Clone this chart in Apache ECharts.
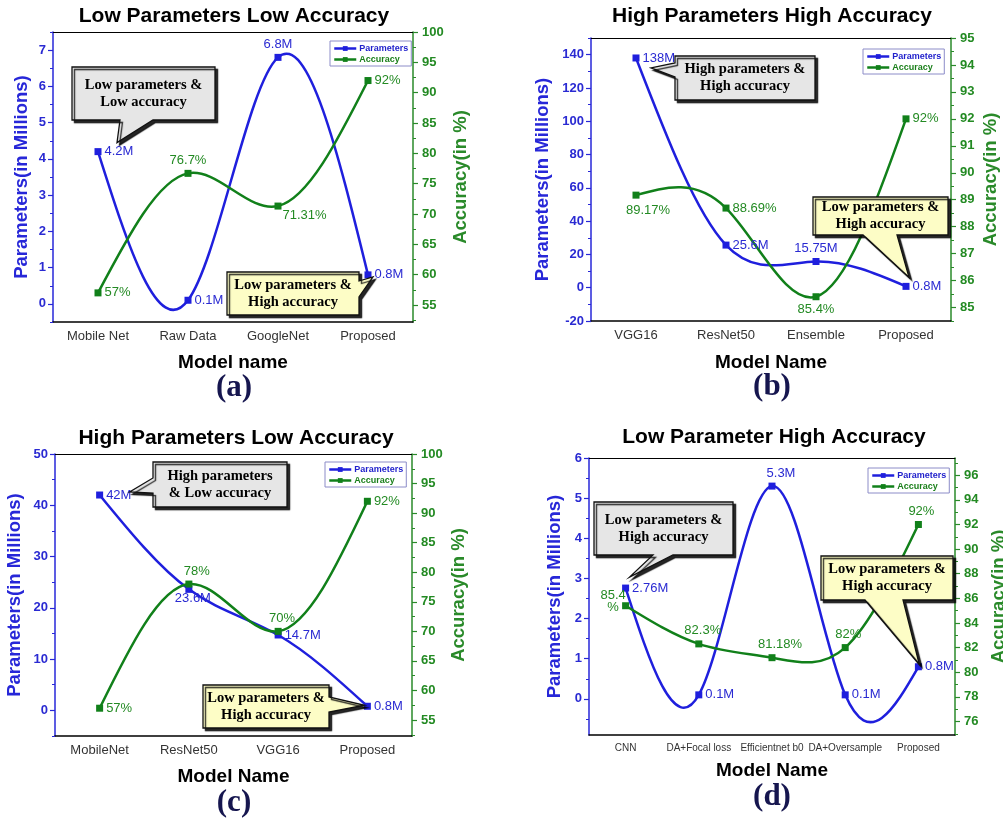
<!DOCTYPE html>
<html>
<head>
<meta charset="utf-8">
<script src="https://cdn.jsdelivr.net/npm/echarts@6/dist/echarts.min.js"></script>
<style>
  html, body { margin: 0; padding: 0; background: #fff; }
  #chart { width: 1003px; height: 823px; }
</style>
</head>
<body>
<div id="chart"></div>
<script>
  // (a) Low Parameters Low Accuracy
  const catsA = ['Mobile Net', 'Raw Data', 'GoogleNet', 'Proposed'];
  const paramsA = [4.2, 0.1, 6.8, 0.8];
  const accA = [57, 76.7, 71.31, 92];
  const leftTicksA = [0, 1, 2, 3, 4, 5, 6, 7];
  const rightTicksA = [55, 60, 65, 70, 75, 80, 85, 90, 95, 100];

  // (b) High Parameters High Accuracy
  const catsB = ['VGG16', 'ResNet50', 'Ensemble', 'Proposed'];
  const paramsB = [138, 25.6, 15.75, 0.8];
  const accB = [89.17, 88.69, 85.4, 92];
  const leftTicksB = [-20, 0, 20, 40, 60, 80, 100, 120, 140];
  const rightTicksB = [85, 86, 87, 88, 89, 90, 91, 92, 93, 94, 95];

  // (c) High Parameters Low Accuracy
  const catsC = ['MobileNet', 'ResNet50', 'VGG16', 'Proposed'];
  const paramsC = [42, 23.6, 14.7, 0.8];
  const accC = [57, 78, 70, 92];
  const leftTicksC = [0, 10, 20, 30, 40, 50];
  const rightTicksC = [55, 60, 65, 70, 75, 80, 85, 90, 95, 100];

  // (d) Low Parameter High Accuracy
  const catsD = ['CNN', 'DA+Focal loss', 'Efficientnet b0', 'DA+Oversample', 'Proposed'];
  const paramsD = [2.76, 0.1, 5.3, 0.1, 0.8];
  const accD = [85.4, 82.3, 81.18, 82, 92];
  const leftTicksD = [0, 1, 2, 3, 4, 5, 6];
  const rightTicksD = [76, 78, 80, 82, 84, 86, 88, 90, 92, 94, 96];

  const BLUE = '#1f1fdd';
  const BLUE_TXT = '#2a2ad2';
  const GREEN = '#11801a';
  const GREEN_TXT = '#238a23';
  const SANS = '"Liberation Sans", Arial, sans-serif';
  const SERIF = '"Liberation Serif", "Times New Roman", serif';

  const R = { p: 'right' }, T = { p: 'top' }, B = { p: 'bottom' };

  const panels = [
    {
      grid: { left: 53, top: 32, width: 360, height: 290 },
      title: 'Low Parameters Low Accuracy', titlePos: [234, 16],
      sub: '(a)', subPos: [234, 388],
      xName: 'Model name', xGap: 31, catFont: 13,
      cats: catsA, params: paramsA, acc: accA,
      left: { min: -0.5, max: 7.5, ticks: leftTicksA, gap: 22 },
      right: { min: 52.2, max: 100, ticks: rightTicksA, gap: 38 },
      legend: { left: 330, top: 41 },
      pLab: [R, R, T, R],
      aLab: [R, T, { p: 'right', o: [-2, 9] }, R]
    },
    {
      grid: { left: 591, top: 38, width: 360, height: 283 },
      title: 'High Parameters High Accuracy', titlePos: [772, 16],
      sub: '(b)', subPos: [772, 387],
      xName: 'Model Name', xGap: 32, catFont: 13,
      cats: catsB, params: paramsB, acc: accB,
      left: { min: -20, max: 150, ticks: leftTicksB, gap: 39 },
      right: { min: 84.5, max: 95, ticks: rightTicksB, gap: 30 },
      legend: { left: 863, top: 49 },
      pLab: [R, R, T, R],
      aLab: [{ p: 'bottom', o: [12, 2] }, R, B, R]
    },
    {
      grid: { left: 55, top: 454, width: 357, height: 282 },
      title: 'High Parameters Low Accuracy', titlePos: [236, 438],
      sub: '(c)', subPos: [234, 803],
      xName: 'Model Name', xGap: 31, catFont: 13,
      cats: catsC, params: paramsC, acc: accC,
      left: { min: -5, max: 50, ticks: leftTicksC, gap: 31 },
      right: { min: 52.3, max: 100, ticks: rightTicksC, gap: 37 },
      legend: { left: 325, top: 462 },
      pLab: [R, { p: 'bottom', o: [4, -4] }, R, R],
      aLab: [R, { p: 'top', o: [8, 0] }, { p: 'top', o: [4, 0] }, R]
    },
    {
      grid: { left: 589, top: 458, width: 366, height: 277 },
      title: 'Low Parameter High Accuracy', titlePos: [774, 437],
      sub: '(d)', subPos: [772, 797],
      xName: 'Model Name', xGap: 26, catFont: 10,
      cats: catsD, params: paramsD, acc: accD,
      left: { min: -0.9, max: 6, ticks: leftTicksD, gap: 25 },
      right: { min: 74.9, max: 97.4, ticks: rightTicksD, gap: 34 },
      legend: { left: 868, top: 468 },
      pLab: [R, R, { p: 'top', o: [9, 0] }, R, R],
      aLab: [{ p: 'left', o: [-6, -4], two: true }, { p: 'top', o: [4, 0] }, { p: 'top', o: [8, 0] }, { p: 'top', o: [3, 0] }, { p: 'top', o: [3, 0] }]
    }
  ];

  // callout boxes: box = [x, y, w, h], wedge base on one side, tip near a data point
  const callouts = [
    { p: 0, s: 'params', i: 0, box: [72, 67, 143, 53], side: 'bottom', base: [120, 153], tip: [19, -9], fill: '#e6e6e6', text: 'Low parameters &\nLow accuracy' },
    { p: 0, s: 'params', i: 3, box: [227, 272, 132, 43], side: 'right', base: [281, 297], tip: [5, 2], fill: '#fdfdc6', text: 'Low parameters &\nHigh accuracy' },
    { p: 1, s: 'params', i: 0, box: [675, 56, 140, 44], side: 'left', base: [63, 77], tip: [15, 10], fill: '#e6e6e6', text: 'High parameters &\nHigh accuracy' },
    { p: 1, s: 'params', i: 3, box: [813, 197, 135, 38], side: 'bottom', base: [863, 897], tip: [3, -9], fill: '#fdfdc6', text: 'Low parameters &\nHigh accuracy' },
    { p: 2, s: 'params', i: 0, box: [153, 462, 134, 45], side: 'left', base: [478, 493], tip: [30, -3], fill: '#e6e6e6', text: 'High parameters\n& Low accuracy' },
    { p: 2, s: 'params', i: 3, box: [203, 685, 126, 43], side: 'right', base: [697, 712], tip: [-3, -1], fill: '#fdfdc6', text: 'Low parameters &\nHigh accuracy' },
    { p: 3, s: 'params', i: 0, box: [594, 502, 139, 53], side: 'bottom', base: [653, 673], tip: [4, -11], fill: '#e6e6e6', text: 'Low parameters &\nHigh accuracy' },
    { p: 3, s: 'params', i: 4, box: [821, 556, 132, 44], side: 'bottom', base: [865, 903], tip: [1, -2], fill: '#fdfdc6', text: 'Low parameters &\nHigh accuracy' }
  ];

  function minorOf(ticks, min, max) {
    const step = ticks[1] - ticks[0];
    const out = [];
    for (let v = ticks[0] - step / 2; v <= max + 1e-9; v += step) {
      if (v >= min - 1e-9) out.push(+v.toFixed(4));
    }
    return out;
  }

  // natural cubic spline through pixel points, as an svg path (like Origin's spline connect)
  function splinePath(p) {
    const n = p.length;
    const x = p.map(q => q[0]), y = p.map(q => q[1]);
    const h = [];
    for (let i = 0; i < n - 1; i++) h.push(x[i + 1] - x[i]);
    const M = new Array(n).fill(0);
    if (n > 2) {
      const a = [], b = [], c = [], d = [];
      for (let i = 1; i < n - 1; i++) {
        a.push(h[i - 1]); b.push(2 * (h[i - 1] + h[i])); c.push(h[i]);
        d.push(6 * ((y[i + 1] - y[i]) / h[i] - (y[i] - y[i - 1]) / h[i - 1]));
      }
      const m = b.length;
      for (let i = 1; i < m; i++) {
        const w = a[i] / b[i - 1];
        b[i] -= w * c[i - 1];
        d[i] -= w * d[i - 1];
      }
      const sol = new Array(m);
      sol[m - 1] = d[m - 1] / b[m - 1];
      for (let i = m - 2; i >= 0; i--) sol[i] = (d[i] - c[i] * sol[i + 1]) / b[i];
      for (let i = 0; i < m; i++) M[i + 1] = sol[i];
    }
    const slope = [];
    for (let i = 0; i < n - 1; i++) slope.push((y[i + 1] - y[i]) / h[i] - h[i] * (2 * M[i] + M[i + 1]) / 6);
    slope.push((y[n - 1] - y[n - 2]) / h[n - 2] + h[n - 2] * (M[n - 2] + 2 * M[n - 1]) / 6);
    let d = 'M' + x[0] + ' ' + y[0];
    for (let i = 0; i < n - 1; i++) {
      const k = h[i] / 3;
      d += ' C' + (x[i] + k) + ' ' + (y[i] + slope[i] * k) + ' ' +
        (x[i + 1] - k) + ' ' + (y[i + 1] - slope[i + 1] * k) + ' ' + x[i + 1] + ' ' + y[i + 1];
    }
    return d;
  }

  function yAxes(gi, pos, cfg, color, txtColor, name) {
    const main = {
      type: 'value', gridIndex: gi, position: pos, min: cfg.min, max: cfg.max,
      name: name, nameLocation: 'middle', nameGap: cfg.gap, nameRotate: 90,
      nameMoveOverlap: false,
      nameTextStyle: { color: color, fontSize: 18.5, fontWeight: 'bold', fontFamily: SANS },
      axisLine: { show: true, lineStyle: { color: color, width: 1.5 } },
      axisTick: { show: true, length: 5, customValues: cfg.ticks, lineStyle: { color: color, width: 1.2 } },
      axisLabel: { customValues: cfg.ticks, color: txtColor, fontSize: 13, fontWeight: 'bold', fontFamily: SANS, margin: pos === 'left' ? 7 : 9 },
      splitLine: { show: false }
    };
    const minor = {
      type: 'value', gridIndex: gi, position: pos, min: cfg.min, max: cfg.max,
      axisLine: { show: false },
      axisTick: { show: true, length: 3, customValues: minorOf(cfg.ticks, cfg.min, cfg.max), lineStyle: { color: color, width: 1 } },
      axisLabel: { show: false },
      splitLine: { show: false }
    };
    return [main, minor];
  }

  function labelOf(l, color, unit) {
    const lab = { show: true, position: l.p, color: color, fontSize: 13, fontFamily: SANS, distance: 3 };
    if (l.o) lab.offset = l.o;
    lab.formatter = l.two ? '{c}\n' + unit : '{c}' + unit;
    if (l.two) { lab.align = 'center'; lab.lineHeight = 12; }
    return lab;
  }

  function curve(gi, yIdx, vals, color) {
    return {
      type: 'custom', coordinateSystem: 'cartesian2d', xAxisIndex: gi * 4, yAxisIndex: yIdx,
      silent: true, clip: false, z: 1,
      data: vals.map((v, i) => [i, v]),
      renderItem: (params, api) => {
        if (params.dataIndex !== 0) return null;
        const pts = vals.map((v, i) => api.coord([i, v]));
        return {
          type: 'path', shape: { pathData: splinePath(pts) },
          style: { fill: 'none', stroke: color, lineWidth: 2.5 }
        };
      }
    };
  }

  const option = {
    animation: false,
    backgroundColor: '#fff',
    grid: [], xAxis: [], yAxis: [], series: [], legend: []
  };

  panels.forEach((pn, gi) => {
    option.grid.push(Object.assign({ outerBoundsMode: 'none', containLabel: false }, pn.grid));
    const xBase = { type: 'category', gridIndex: gi, data: pn.cats, boundaryGap: true };
    option.xAxis.push(Object.assign({}, xBase, {
      position: 'bottom',
      name: pn.xName, nameLocation: 'middle', nameGap: pn.xGap, nameMoveOverlap: false,
      nameTextStyle: { color: '#000', fontSize: 19, fontWeight: 'bold', fontFamily: SANS },
      axisLine: { onZero: false, lineStyle: { color: '#000', width: 1.5 } },
      axisTick: { alignWithLabel: true, interval: 0, length: 5, lineStyle: { color: '#000' } },
      axisLabel: { interval: 0, color: '#333', fontSize: pn.catFont, fontFamily: SANS, margin: 8 }
    }));
    option.xAxis.push(Object.assign({}, xBase, {
      position: 'bottom', axisLine: { show: false, onZero: false },
      axisTick: { interval: 0, length: 3, lineStyle: { color: '#000' } }, axisLabel: { show: false }
    }));
    option.xAxis.push(Object.assign({}, xBase, {
      position: 'top', axisLine: { onZero: false, lineStyle: { color: '#000', width: 1 } },
      axisTick: { inside: true, alignWithLabel: true, interval: 0, length: 5, lineStyle: { color: '#000' } },
      axisLabel: { show: false }
    }));
    option.xAxis.push(Object.assign({}, xBase, {
      position: 'top', axisLine: { show: false, onZero: false },
      axisTick: { inside: true, interval: 0, length: 3, lineStyle: { color: '#000' } }, axisLabel: { show: false }
    }));

    option.yAxis.push(...yAxes(gi, 'left', pn.left, '#2727d8', BLUE_TXT, 'Parameters(in Millions)'));
    option.yAxis.push(...yAxes(gi, 'right', pn.right, '#2a8a2a', GREEN_TXT, 'Accuracy(in %)'));

    option.series.push(curve(gi, gi * 4, pn.params, BLUE));
    option.series.push(curve(gi, gi * 4 + 2, pn.acc, GREEN));

    option.series.push({
      name: 'Parameters', type: 'line', xAxisIndex: gi * 4, yAxisIndex: gi * 4,
      symbol: 'rect', symbolSize: 7, z: 3,
      lineStyle: { color: BLUE, width: 2.5, opacity: 0 }, itemStyle: { color: BLUE },
      data: pn.params.map((v, k) => ({ value: v, label: labelOf(pn.pLab[k], BLUE_TXT, 'M') }))
    });
    option.series.push({
      name: 'Accuracy', type: 'line', xAxisIndex: gi * 4, yAxisIndex: gi * 4 + 2,
      symbol: 'rect', symbolSize: 7, z: 3,
      lineStyle: { color: GREEN, width: 2.5, opacity: 0 }, itemStyle: { color: GREEN },
      data: pn.acc.map((v, k) => ({ value: v, label: labelOf(pn.aLab[k], GREEN_TXT, '%') }))
    });

    option.legend.push({
      left: pn.legend.left, top: pn.legend.top, orient: 'vertical',
      itemWidth: 22, itemHeight: 6, itemGap: 2, padding: [3, 3, 2, 3],
      borderColor: '#8c8cc8', borderWidth: 1, backgroundColor: '#fff',
      selectedMode: false,
      textStyle: { fontSize: 9, fontWeight: 'bold', fontFamily: SANS, padding: [0, 0, 0, -2] },
      data: [
        { name: 'Parameters', textStyle: { color: '#2222cc' }, lineStyle: { color: BLUE, width: 2.5, opacity: 1 }, itemStyle: { color: BLUE } },
        { name: 'Accuracy', textStyle: { color: '#1a7f1a' }, lineStyle: { color: GREEN, width: 2.5, opacity: 1 }, itemStyle: { color: GREEN } }
      ]
    });
  });

  const chart = echarts.init(document.getElementById('chart'));
  chart.setOption(option);

  const graphics = [];
  panels.forEach(pn => {
    graphics.push({
      type: 'text', x: pn.titlePos[0], y: pn.titlePos[1], z: 50,
      style: { text: pn.title, align: 'center', verticalAlign: 'middle', textAlign: 'center', textVerticalAlign: 'middle',
               fontSize: 21, fontWeight: 'bold', fontFamily: SANS, fill: '#000' }
    });
    graphics.push({
      type: 'text', x: pn.subPos[0], y: pn.subPos[1], z: 50,
      style: { text: pn.sub, align: 'center', verticalAlign: 'middle', textAlign: 'center', textVerticalAlign: 'middle',
               fontSize: 31, fontWeight: 'bold', fontFamily: SERIF, fill: '#16164f' }
    });
  });

  callouts.forEach(c => {
    const pn = panels[c.p];
    const val = pn[c.s][c.i];
    const pt = chart.convertToPixel({ xAxisIndex: c.p * 4, yAxisIndex: c.p * 4 }, [c.i, val]);
    const tip = [pt[0] + c.tip[0], pt[1] + c.tip[1]];
    const [x, y, w, h] = c.box;
    let pts;
    if (c.side === 'bottom') {
      pts = [[x, y], [x + w, y], [x + w, y + h], [c.base[1], y + h], tip, [c.base[0], y + h], [x, y + h]];
    } else if (c.side === 'left') {
      pts = [[x, y], [x + w, y], [x + w, y + h], [x, y + h], [x, c.base[1]], tip, [x, c.base[0]]];
    } else {
      pts = [[x, y], [x + w, y], [x + w, c.base[0]], tip, [x + w, c.base[1]], [x + w, y + h], [x, y + h]];
    }
    graphics.push({
      type: 'polygon', z: 100, shape: { points: pts },
      style: { fill: c.fill, stroke: '#111', lineWidth: 1.3, shadowBlur: 1, shadowOffsetX: 2.5, shadowOffsetY: 2.5, shadowColor: 'rgba(0,0,0,0.85)' }
    });
    graphics.push({
      type: 'text', z: 101, x: x + w / 2, y: y + h / 2,
      style: { text: c.text, align: 'center', verticalAlign: 'middle', textAlign: 'center', textVerticalAlign: 'middle',
               fontSize: 14.5, fontWeight: 'bold', fontFamily: SERIF, lineHeight: 17, fill: '#000' }
    });
  });

  chart.setOption({ graphic: graphics });
</script>
</body>
</html>
